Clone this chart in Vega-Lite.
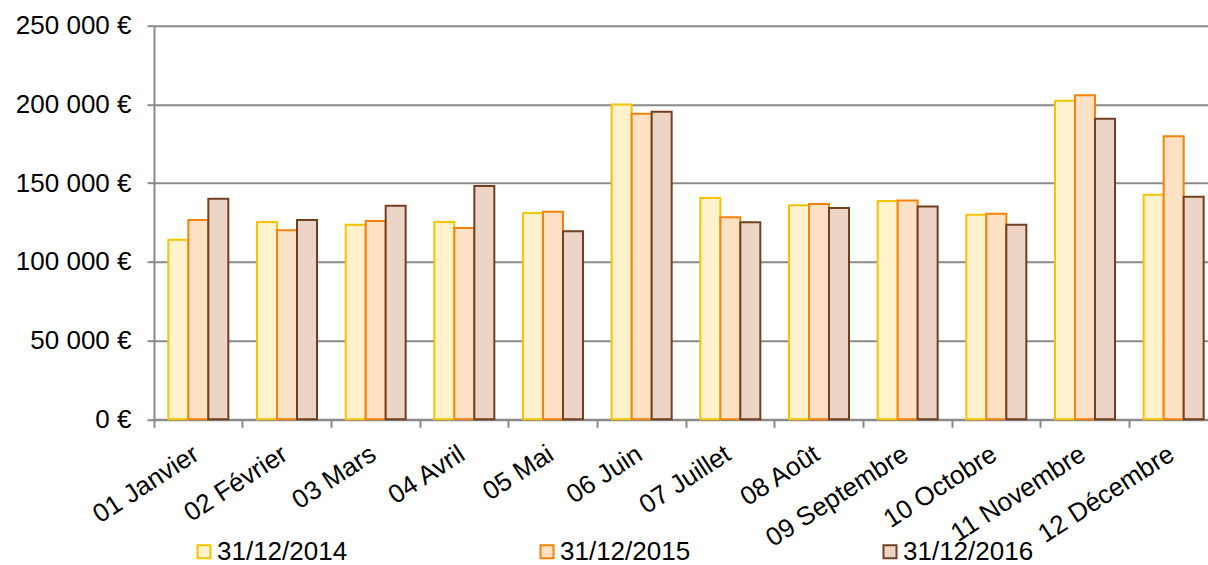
{
  "$schema": "https://vega.github.io/schema/vega-lite/v6.json",
  "width": 1054,
  "height": 393.6,
  "autosize": {"type": "none"},
  "padding": {"left": 154, "top": 25.7, "right": 0, "bottom": 145.7},
  "config": {
    "view": {"stroke": null},
    "font": "Liberation Sans"
  },
  "data": {
    "values": [
      {"mois": "01 Janvier", "date": "31/12/2014", "montant": 114000},
      {"mois": "01 Janvier", "date": "31/12/2015", "montant": 126600},
      {"mois": "01 Janvier", "date": "31/12/2016", "montant": 140100},
      {"mois": "02 Février", "date": "31/12/2014", "montant": 125300},
      {"mois": "02 Février", "date": "31/12/2015", "montant": 120000},
      {"mois": "02 Février", "date": "31/12/2016", "montant": 126600},
      {"mois": "03 Mars", "date": "31/12/2014", "montant": 123600},
      {"mois": "03 Mars", "date": "31/12/2015", "montant": 126000},
      {"mois": "03 Mars", "date": "31/12/2016", "montant": 135700},
      {"mois": "04 Avril", "date": "31/12/2014", "montant": 125300},
      {"mois": "04 Avril", "date": "31/12/2015", "montant": 121500},
      {"mois": "04 Avril", "date": "31/12/2016", "montant": 148200},
      {"mois": "05 Mai", "date": "31/12/2014", "montant": 131000},
      {"mois": "05 Mai", "date": "31/12/2015", "montant": 131900},
      {"mois": "05 Mai", "date": "31/12/2016", "montant": 119400},
      {"mois": "06 Juin", "date": "31/12/2014", "montant": 200000},
      {"mois": "06 Juin", "date": "31/12/2015", "montant": 194100},
      {"mois": "06 Juin", "date": "31/12/2016", "montant": 195400},
      {"mois": "07 Juillet", "date": "31/12/2014", "montant": 140600},
      {"mois": "07 Juillet", "date": "31/12/2015", "montant": 128300},
      {"mois": "07 Juillet", "date": "31/12/2016", "montant": 125100},
      {"mois": "08 Août", "date": "31/12/2014", "montant": 135900},
      {"mois": "08 Août", "date": "31/12/2015", "montant": 136800},
      {"mois": "08 Août", "date": "31/12/2016", "montant": 134200},
      {"mois": "09 Septembre", "date": "31/12/2014", "montant": 138700},
      {"mois": "09 Septembre", "date": "31/12/2015", "montant": 138900},
      {"mois": "09 Septembre", "date": "31/12/2016", "montant": 135100},
      {"mois": "10 Octobre", "date": "31/12/2014", "montant": 130000},
      {"mois": "10 Octobre", "date": "31/12/2015", "montant": 130600},
      {"mois": "10 Octobre", "date": "31/12/2016", "montant": 123600},
      {"mois": "11 Novembre", "date": "31/12/2014", "montant": 202400},
      {"mois": "11 Novembre", "date": "31/12/2015", "montant": 205800},
      {"mois": "11 Novembre", "date": "31/12/2016", "montant": 190900},
      {"mois": "12 Décembre", "date": "31/12/2014", "montant": 142700},
      {"mois": "12 Décembre", "date": "31/12/2015", "montant": 179800},
      {"mois": "12 Décembre", "date": "31/12/2016", "montant": 141400}
    ]
  },
  "mark": {"type": "bar", "strokeWidth": 2, "strokeOpacity": 1, "fillOpacity": 1},
  "encoding": {
    "x": {
      "field": "mois",
      "type": "nominal",
      "sort": null,
      "title": null,
      "scale": {"range": [0, 1064], "paddingInner": 0, "paddingOuter": 0},
      "axis": {
        "bandPosition": 0,
        "grid": false,
        "domainColor": "#8a8a8a",
        "domainWidth": 2,
        "tickColor": "#8a8a8a",
        "tickWidth": 2,
        "tickSize": 8,
        "labelAngle": -33,
        "labelAlign": "right",
        "labelBaseline": "middle",
        "labelOffset": -2,
        "labelPadding": 24,
        "labelFontSize": 26,
        "labelColor": "#000000",
        "labelFont": "Liberation Sans",
        "labelOverlap": false,
        "labelLimit": 400
      }
    },
    "xOffset": {
      "field": "date",
      "type": "nominal",
      "scale": {"paddingInner": 0, "paddingOuter": 0.717}
    },
    "y": {
      "field": "montant",
      "type": "quantitative",
      "title": null,
      "scale": {"domain": [0, 250000], "nice": false},
      "axis": {
        "values": [0, 50000, 100000, 150000, 200000, 250000],
        "labelExpr": "replace(format(datum.value, ','), ',', ' ') + ' €'",
        "grid": true,
        "gridColor": "#8a8a8a",
        "gridWidth": 2,
        "domainColor": "#8a8a8a",
        "domainWidth": 2,
        "tickColor": "#8a8a8a",
        "tickWidth": 2,
        "tickSize": 7,
        "labelPadding": 16,
        "labelFontSize": 26,
        "labelColor": "#000000",
        "labelFont": "Liberation Sans"
      }
    },
    "fill": {
      "field": "date",
      "type": "nominal",
      "scale": {
        "domain": ["31/12/2014", "31/12/2015", "31/12/2016"],
        "range": ["#FFF2CC", "#FFE1C6", "#ECD4C6"]
      },
      "legend": {
        "title": null,
        "orient": "none",
        "direction": "horizontal",
        "legendX": 37,
        "legendY": 513,
        "symbolType": "square",
        "symbolSize": 170,
        "symbolStrokeWidth": 2,
        "labelFontSize": 26,
        "labelColor": "#000000",
        "labelFont": "Liberation Sans",
        "labelOffset": 0,
        "columnPadding": 186
      }
    },
    "stroke": {
      "field": "date",
      "type": "nominal",
      "scale": {
        "domain": ["31/12/2014", "31/12/2015", "31/12/2016"],
        "range": ["#F5C400", "#F5820A", "#704020"]
      },
      "legend": {
        "title": null,
        "orient": "none",
        "direction": "horizontal",
        "legendX": 37,
        "legendY": 513,
        "symbolType": "square",
        "symbolSize": 170,
        "symbolStrokeWidth": 2,
        "labelFontSize": 26,
        "labelColor": "#000000",
        "labelFont": "Liberation Sans",
        "labelOffset": 0,
        "columnPadding": 186
      }
    }
  }
}
